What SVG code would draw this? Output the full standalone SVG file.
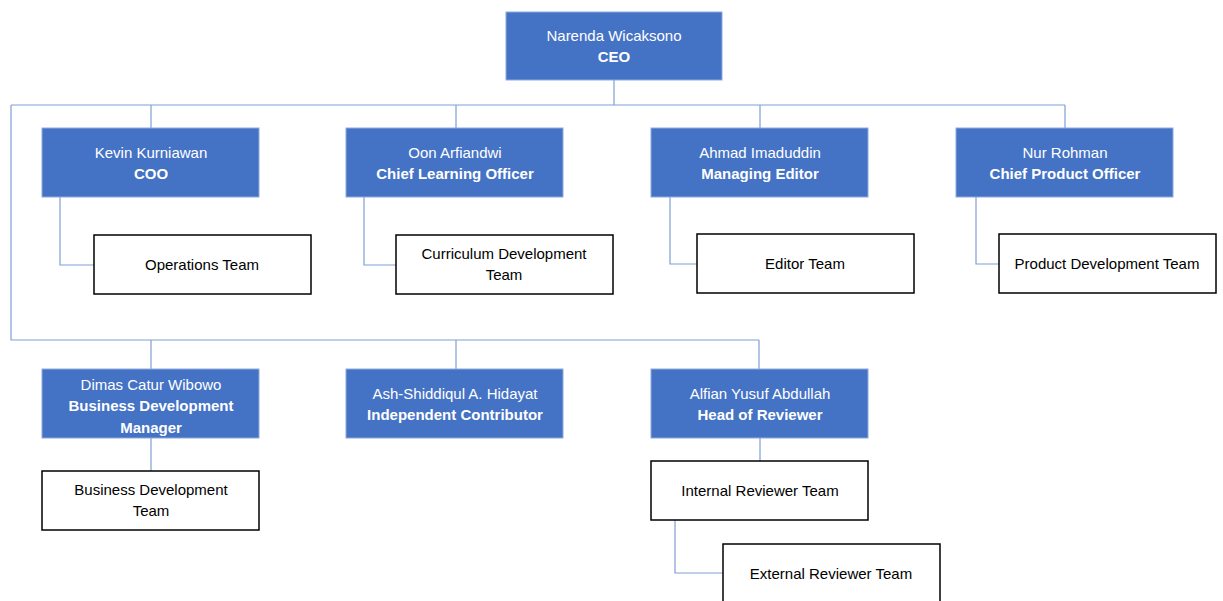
<svg xmlns="http://www.w3.org/2000/svg" width="1223" height="601" viewBox="0 0 1223 601">
<style>
.b{fill:#4472C4;stroke:#8FAADC;stroke-width:1}
.w{fill:#fff;stroke:#000;stroke-width:1.5}
text{font-family:"Liberation Sans",Arial,sans-serif;font-size:15px;text-anchor:middle}
.bt{fill:#fff}
.bb{fill:#fff;font-weight:bold}
.wt{fill:#000}
.c{fill:none;stroke:#7F9FD6;stroke-width:1.2}
</style>
<rect width="1223" height="601" fill="#fff"/>
<g id="connectors">
<path class="c" d="M614 80V105M11 105H1065M151 105V128M456 105V128M760 105V128M1065 105V128"/>
<path class="c" d="M11 105V340H759M151 340V369M456 340V369M759 340V369"/>
<path class="c" d="M60 197V265H94M364 197V265H396M670 197V264H697M976 197V264H999"/>
<path class="c" d="M151 438V471M760 438V461M675 520V573H723"/>
</g>
<g id="ceo"><rect class="b" x="506" y="12" width="216" height="68"/><text class="bt" x="614" y="41">Narenda Wicaksono</text><text class="bb" x="614" y="62">CEO</text></g>
<g id="coo"><rect class="b" x="42" y="128" width="217" height="69"/><text class="bt" x="151" y="158">Kevin Kurniawan</text><text class="bb" x="151" y="179">COO</text></g>
<g id="clo"><rect class="b" x="346" y="128" width="217" height="69"/><text class="bt" x="455" y="158">Oon Arfiandwi</text><text class="bb" x="455" y="179">Chief Learning Officer</text></g>
<g id="me"><rect class="b" x="651" y="128" width="217" height="69"/><text class="bt" x="760" y="158">Ahmad Imaduddin</text><text class="bb" x="760" y="179">Managing Editor</text></g>
<g id="cpo"><rect class="b" x="956" y="128" width="217" height="69"/><text class="bt" x="1065" y="158">Nur Rohman</text><text class="bb" x="1065" y="179">Chief Product Officer</text></g>
<g id="ops"><rect class="w" x="94" y="235" width="217" height="59"/><text class="wt" x="202" y="270">Operations Team</text></g>
<g id="cur"><rect class="w" x="396" y="235" width="217" height="59"/><text class="wt" x="504" y="259">Curriculum Development</text><text class="wt" x="504" y="280">Team</text></g>
<g id="ed"><rect class="w" x="697" y="234" width="217" height="59"/><text class="wt" x="805" y="269">Editor Team</text></g>
<g id="pd"><rect class="w" x="999" y="234" width="217" height="59"/><text class="wt" x="1107" y="269">Product Development Team</text></g>
<g id="bdm"><rect class="b" x="42" y="369" width="217" height="69"/><text class="bt" x="151" y="390">Dimas Catur Wibowo</text><text class="bb" x="151" y="411">Business Development</text><text class="bb" x="151" y="433">Manager</text></g>
<g id="ic"><rect class="b" x="346" y="369" width="217" height="69"/><text class="bt" x="455" y="399">Ash-Shiddiqul A. Hidayat</text><text class="bb" x="455" y="420">Independent Contributor</text></g>
<g id="hr"><rect class="b" x="651" y="369" width="217" height="69"/><text class="bt" x="760" y="399">Alfian Yusuf Abdullah</text><text class="bb" x="760" y="420">Head of Reviewer</text></g>
<g id="bdt"><rect class="w" x="42" y="471" width="217" height="59"/><text class="wt" x="151" y="495">Business Development</text><text class="wt" x="151" y="516">Team</text></g>
<g id="irt"><rect class="w" x="651" y="461" width="217" height="59"/><text class="wt" x="760" y="496">Internal Reviewer Team</text></g>
<g id="ert"><rect class="w" x="723" y="544" width="217" height="62"/><text class="wt" x="831" y="579">External Reviewer Team</text></g>
</svg>
